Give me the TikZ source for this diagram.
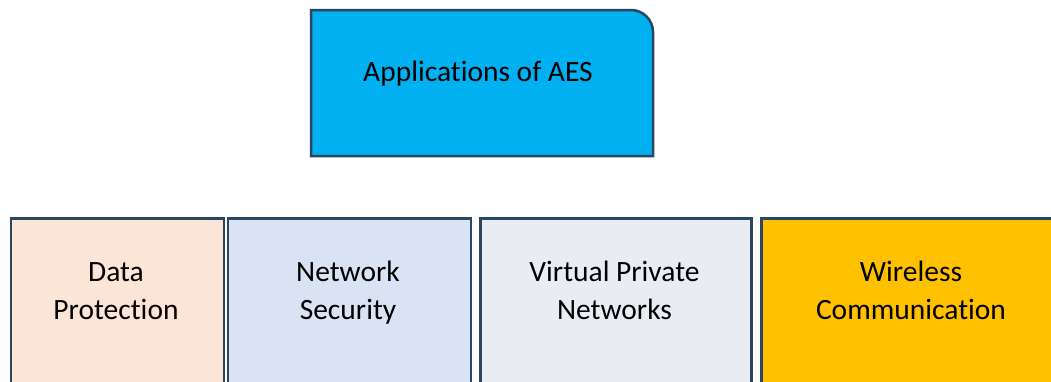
\documentclass[tikz,border=0pt]{standalone}
\usepackage{fontspec}
\setmainfont{Carlito}[Ligatures={NoCommon}]
\definecolor{edge}{HTML}{2B4660}
\definecolor{topfill}{HTML}{00B0F0}
\definecolor{fa}{HTML}{FBE5D6}
\definecolor{fb}{HTML}{DAE3F3}
\definecolor{fc}{HTML}{E9EDF3}
\definecolor{fd}{HTML}{FFC000}
\begin{document}
\begin{tikzpicture}[x=1pt,y=-1pt,
  cell/.style={draw=edge,line width=2.5pt,rectangle,inner sep=0pt},
  lbl/.style={align=center,inner sep=0pt,font=\fontsize{29.5}{38}\selectfont,anchor=base}]
\useasboundingbox (0,0) rectangle (1051,381);
\clip (0,0) rectangle (1051,381);
\fill[white] (0,0) rectangle (1051,381);
% top box
\draw[draw=edge,line width=2.5pt,fill=topfill] (311,156) -- (311,10) -- (631,10)
  .. controls (643.1,10) and (653,19.9) .. (653,32) -- (653,156) -- cycle;
\node[lbl] (title) at (478,81) {Applications of AES};
% bottom boxes
\node[cell,fill=fa,minimum width=213pt,minimum height=180pt,anchor=north west] (b1) at (9.5,217) {};
\node[cell,fill=fb,minimum width=243pt,minimum height=180pt,anchor=north west] (b2) at (226.5,217) {};
\node[cell,fill=fc,minimum width=271pt,minimum height=180pt,anchor=north west] (b3) at (479,217) {};
\node[cell,fill=fd,minimum width=302pt,minimum height=180pt,anchor=north west] (b4) at (760,217) {};
\node[lbl] (t1) at (116,319) {Data\\Protection};
\node[lbl] (t2) at (348,319) {Network\\Security};
\node[lbl] (t3) at (614.5,319) {Virtual Private\\Networks};
\node[lbl] (t4) at (911,319) {Wireless\\Communication};
\end{tikzpicture}
\end{document}
